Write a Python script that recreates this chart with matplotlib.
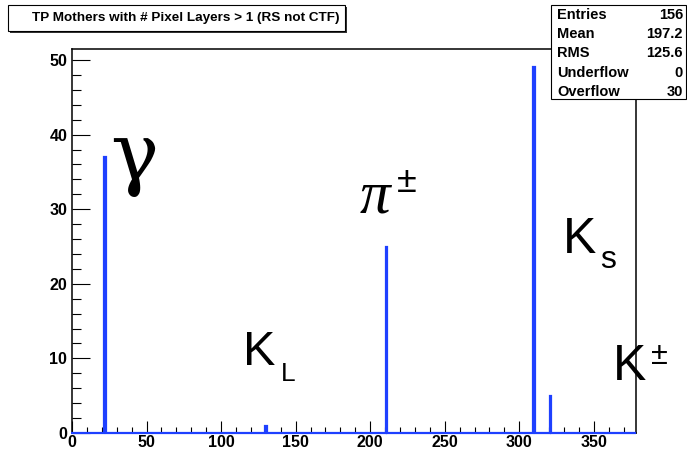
import matplotlib
matplotlib.use('Agg')
import matplotlib.pyplot as plt
from matplotlib.patches import Rectangle
from matplotlib.ticker import MultipleLocator
import numpy as np

# mother particle PDG ids and number of tracks found in each bin
pdg_ids = [22, 130, 211, 310, 321]
counts = [37, 1, 25, 49, 5]

stat_names = ['Entries', 'Mean', 'RMS', 'Underflow', 'Overflow']
stat_values = ['156', '197.2', '125.6', '0', '30']

title = 'TP Mothers with # Pixel Layers > 1 (RS not CTF)'

x_max = 378
edges = np.arange(-0.5, x_max + 1.0, 1.0)   # unit bins centred on integers
hist = np.zeros(len(edges) - 1)
for pid, n in zip(pdg_ids, counts):
    hist[pid] = n

plt.rcParams['font.family'] = 'Liberation Sans'
W, H = 687, 455
fig = plt.figure(figsize=(W / 100, H / 100), dpi=100)
ax = fig.add_axes([72 / W, 1 - 433 / H, 563.5 / W, (433 - 49.2) / H])

blue = '#1e40ff'
ax.stairs(hist, edges, color=blue, linewidth=1.6, clip_on=False, zorder=3)

ax.set_xlim(0, x_max)
ax.set_ylim(0, 1.05 * max(counts))

ax.xaxis.set_major_locator(MultipleLocator(50))
ax.xaxis.set_minor_locator(MultipleLocator(10))
ax.yaxis.set_major_locator(MultipleLocator(10))
ax.yaxis.set_minor_locator(MultipleLocator(2))
ax.tick_params(axis='both', which='both', direction='in', top=False, right=False,
               width=0.8, labelsize=11.5)
ax.tick_params(axis='y', which='major', length=12.7, pad=3.5)
ax.tick_params(axis='y', which='minor', length=6.4)
ax.tick_params(axis='x', which='major', length=8.3, pad=1.5)
ax.tick_params(axis='x', which='minor', length=4.2)
for lab in ax.get_xticklabels() + ax.get_yticklabels():
    lab.set_fontweight('bold')
for sp in ax.spines.values():
    sp.set_linewidth(1.1)

# particle labels
ax.text(41.5, 36.9, 'γ', family='DejaVu Serif', fontsize=58, ha='center', va='center')
ax.text(193.2, 29.5, 'π', family='Liberation Serif', style='italic', fontsize=44)
ax.text(218, 33.6, '±', fontsize=26, va='center')
ax.text(114.8, 9.1, 'K', fontsize=35)
ax.text(140.2, 7.0, 'L', fontsize=19)
ax.text(329.6, 24.1, 'K', fontsize=36)
ax.text(354, 22.1, 's', fontsize=23)
ax.text(362.5, 7.1, 'K', fontsize=36)
ax.text(388.4, 10.3, '±', fontsize=22, va='center')

# title pave with shadow
fig.add_artist(Rectangle((10 / W, 1 - 33 / H), 337 / W, 26 / H, transform=fig.transFigure,
                         facecolor='#333333', edgecolor='none', zorder=4))
fig.add_artist(Rectangle((8 / W, 1 - 31 / H), 337 / W, 26 / H, transform=fig.transFigure,
                         facecolor='white', edgecolor='black', linewidth=0.8, zorder=5))
fig.text(185.5 / W, 1 - 18 / H, title, fontsize=9.7, fontweight='bold',
         ha='center', va='center', zorder=6)

# statistics box
fig.add_artist(Rectangle((551 / W, 1 - 99 / H), 135 / W, 94 / H, transform=fig.transFigure,
                         facecolor='white', edgecolor='black', linewidth=0.8, zorder=5))
for i, (name, val) in enumerate(zip(stat_names, stat_values)):
    yy = 1 - (15 + 19.2 * i) / H
    fig.text(557 / W, yy, name, fontsize=10.5, fontweight='bold', va='center', zorder=6)
    fig.text(683 / W, yy, val, fontsize=10.5, fontweight='bold', va='center', ha='right', zorder=6)

fig.savefig('out.png', dpi=100)
